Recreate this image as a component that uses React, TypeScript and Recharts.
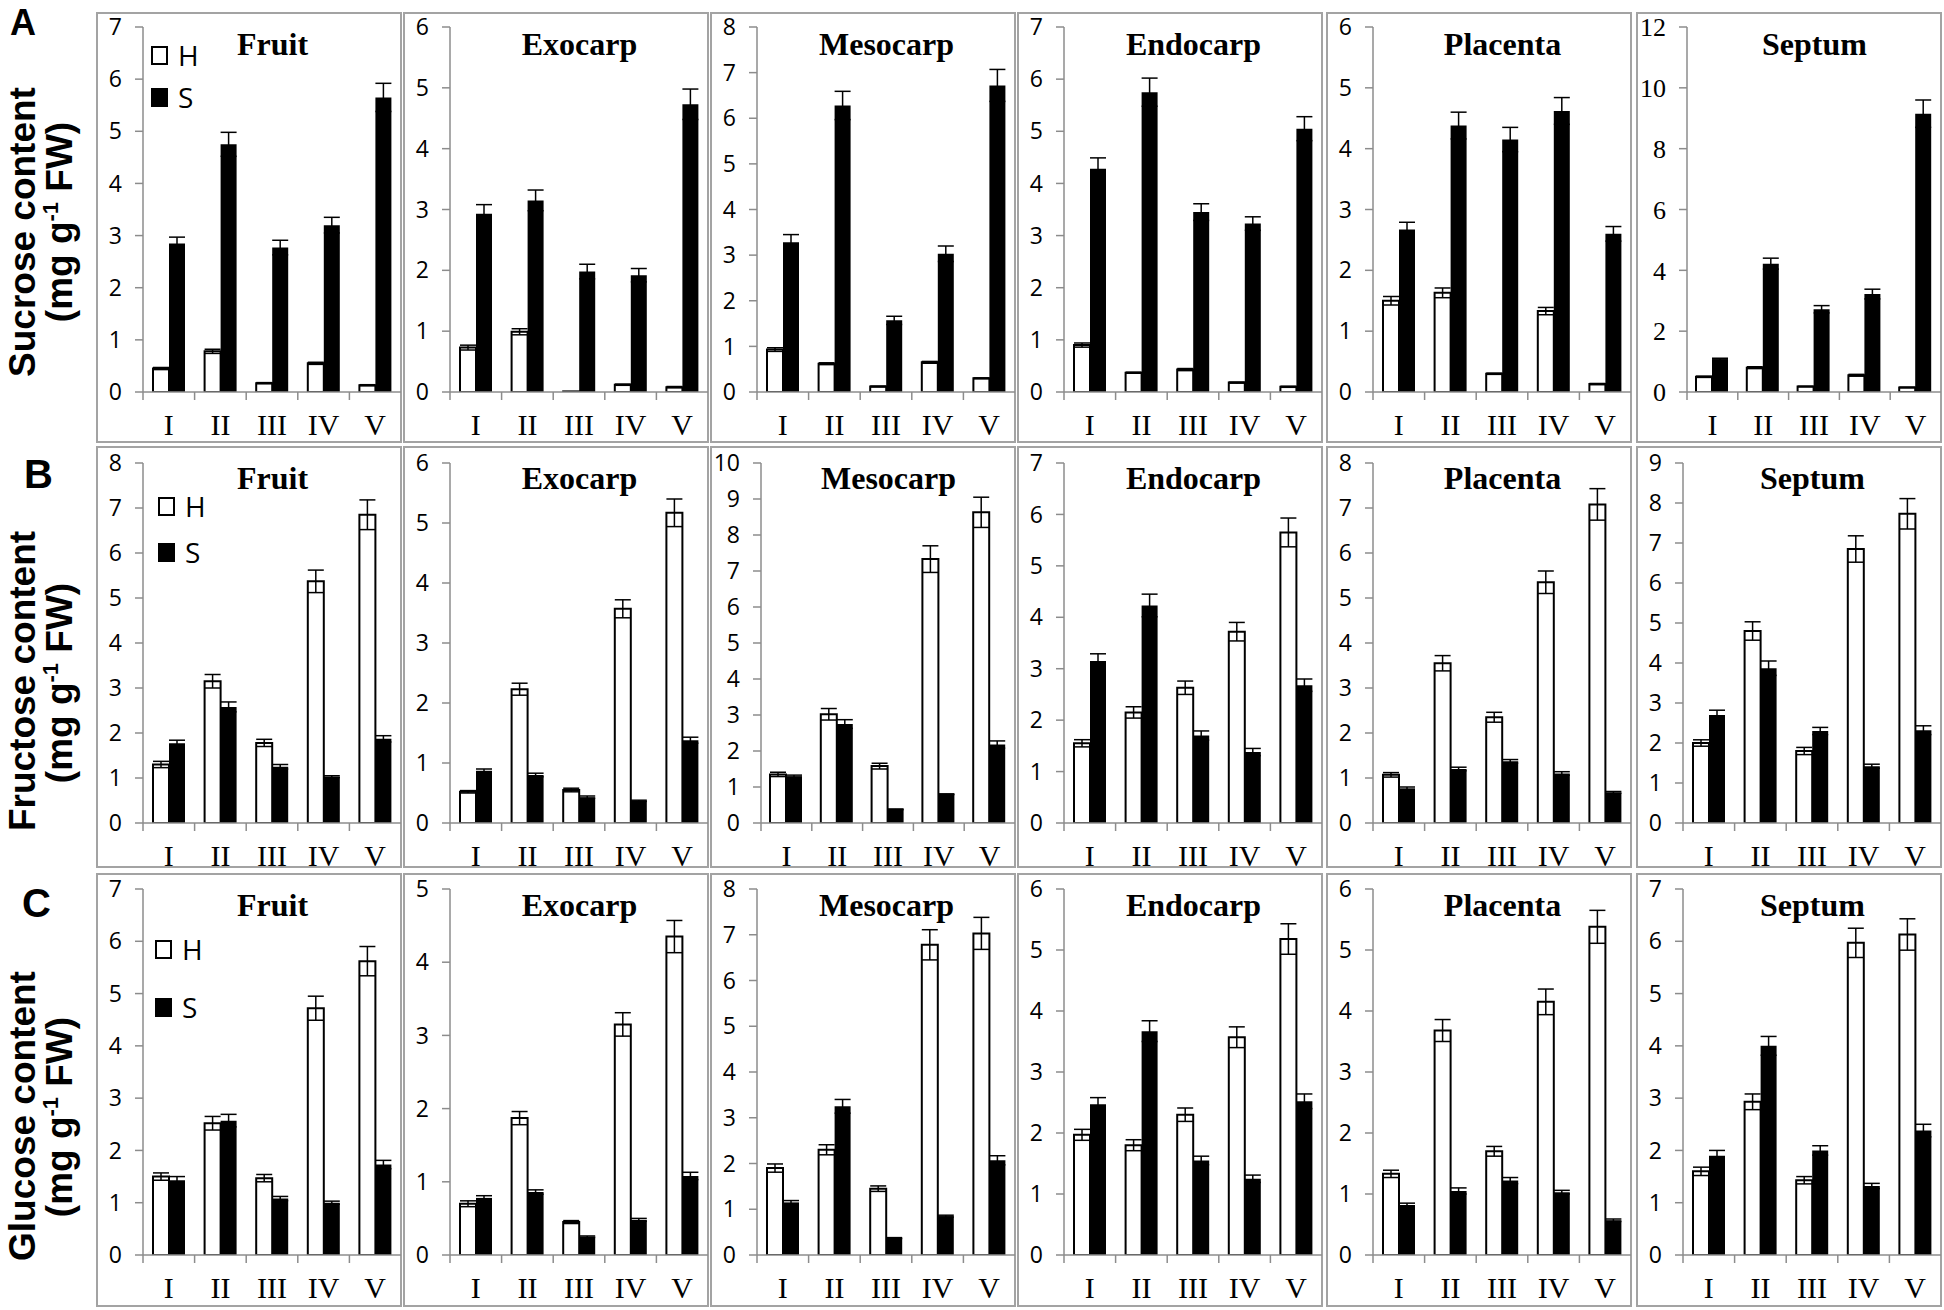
import { BarChart, Bar, XAxis, YAxis, ErrorBar, Legend } from "recharts"

const CATEGORIES = ["I", "II", "III", "IV", "V"]
const TISSUES = ["Fruit", "Exocarp", "Mesocarp", "Endocarp", "Placenta", "Septum"]
const ROW_LETTERS = ["A", "B", "C"]
const ROW_TITLES = ["Sucrose content", "Fructose content", "Glucose content"]

// rows: one inner array per tissue, in TISSUES order, values for stages I..V
const sucroseH = [
  [0.45, 0.78, 0.17, 0.55, 0.13],
  [0.73, 0.99, 0.01, 0.12, 0.08],
  [0.93, 0.62, 0.12, 0.65, 0.3],
  [0.9, 0.37, 0.43, 0.18, 0.1],
  [1.5, 1.63, 0.3, 1.33, 0.13],
  [0.5, 0.8, 0.18, 0.55, 0.15],
]
const sucroseS = [
  [2.85, 4.75, 2.77, 3.2, 5.65],
  [2.93, 3.15, 1.98, 1.92, 4.73],
  [3.28, 6.28, 1.57, 3.03, 6.72],
  [4.28, 5.75, 3.45, 3.23, 5.05],
  [2.67, 4.38, 4.15, 4.62, 2.6],
  [1.08, 4.22, 2.72, 3.22, 9.15],
]
const sucroseHErr = [
  [0.02, 0.04, 0.01, 0.02, 0.01],
  [0.04, 0.05, 0, 0.01, 0.01],
  [0.04, 0.02, 0.01, 0.02, 0.01],
  [0.04, 0.01, 0.02, 0.01, 0.01],
  [0.07, 0.08, 0.01, 0.06, 0.01],
  [0.02, 0.03, 0.01, 0.03, 0.01],
]
const sucroseSErr = [
  [0.12, 0.23, 0.14, 0.15, 0.27],
  [0.15, 0.17, 0.12, 0.11, 0.25],
  [0.17, 0.31, 0.09, 0.17, 0.35],
  [0.21, 0.27, 0.16, 0.13, 0.23],
  [0.12, 0.22, 0.2, 0.22, 0.12],
  [0.03, 0.18, 0.12, 0.16, 0.45],
]

const fructoseH = [
  [1.3, 3.15, 1.78, 5.37, 6.85],
  [0.52, 2.23, 0.55, 3.57, 5.17],
  [1.35, 3.02, 1.58, 7.33, 8.63],
  [1.55, 2.15, 2.63, 3.72, 5.65],
  [1.07, 3.55, 2.35, 5.35, 7.08],
  [2.0, 4.8, 1.8, 6.85, 7.73],
]
const fructoseS = [
  [1.77, 2.58, 1.25, 1.03, 1.87],
  [0.87, 0.8, 0.43, 0.37, 1.38],
  [1.3, 2.75, 0.38, 0.8, 2.18],
  [3.15, 4.23, 1.7, 1.38, 2.68],
  [0.77, 1.2, 1.37, 1.1, 0.68],
  [2.7, 3.87, 2.3, 1.42, 2.32],
]
const fructoseHErr = [
  [0.07, 0.15, 0.08, 0.25, 0.33],
  [0.02, 0.1, 0.03, 0.15, 0.23],
  [0.06, 0.16, 0.08, 0.37, 0.42],
  [0.07, 0.11, 0.13, 0.18, 0.28],
  [0.05, 0.17, 0.11, 0.25, 0.35],
  [0.08, 0.23, 0.09, 0.33, 0.38],
]
const fructoseSErr = [
  [0.07, 0.11, 0.05, 0.02, 0.07],
  [0.03, 0.03, 0.02, 0.01, 0.05],
  [0.03, 0.12, 0.01, 0.01, 0.1],
  [0.14, 0.22, 0.09, 0.07, 0.12],
  [0.03, 0.04, 0.04, 0.04, 0.02],
  [0.12, 0.18, 0.09, 0.05, 0.11],
]

const glucoseH = [
  [1.5, 2.52, 1.47, 4.72, 5.62],
  [0.7, 1.87, 0.45, 3.15, 4.35],
  [1.9, 2.3, 1.45, 6.78, 7.03],
  [1.97, 1.8, 2.3, 3.57, 5.18],
  [1.33, 3.68, 1.7, 4.15, 5.38],
  [1.6, 2.93, 1.43, 5.97, 6.13],
]
const glucoseS = [
  [1.43, 2.57, 1.08, 1.0, 1.73],
  [0.78, 0.86, 0.25, 0.48, 1.08],
  [1.15, 3.25, 0.37, 0.85, 2.07],
  [2.47, 3.67, 1.55, 1.25, 2.52],
  [0.82, 1.05, 1.22, 1.03, 0.57],
  [1.9, 4.0, 2.0, 1.32, 2.38],
]
const glucoseHErr = [
  [0.07, 0.13, 0.07, 0.23, 0.28],
  [0.04, 0.09, 0.02, 0.16, 0.22],
  [0.09, 0.11, 0.06, 0.33, 0.35],
  [0.09, 0.09, 0.11, 0.17, 0.25],
  [0.06, 0.18, 0.08, 0.21, 0.27],
  [0.08, 0.15, 0.07, 0.28, 0.3],
]
const glucoseSErr = [
  [0.07, 0.12, 0.04, 0.03, 0.08],
  [0.03, 0.03, 0.01, 0.02, 0.05],
  [0.04, 0.15, 0.01, 0.02, 0.1],
  [0.11, 0.17, 0.07, 0.06, 0.12],
  [0.03, 0.05, 0.05, 0.03, 0.02],
  [0.1, 0.18, 0.09, 0.05, 0.12],
]

const sucroseMax = [7, 6, 8, 7, 6, 12]
const fructoseMax = [8, 6, 10, 7, 8, 9]
const glucoseMax = [7, 5, 8, 6, 6, 7]

const SERIES = [
  { h: sucroseH, s: sucroseS, hErr: sucroseHErr, sErr: sucroseSErr, max: sucroseMax },
  { h: fructoseH, s: fructoseS, hErr: fructoseHErr, sErr: fructoseSErr, max: fructoseMax },
  { h: glucoseH, s: glucoseS, hErr: glucoseHErr, sErr: glucoseSErr, max: glucoseMax },
]

// layout
const COL_LEFT = [96, 403, 710, 1017, 1326, 1636]
const PANEL_W = 306
const ROWS = [
  { top: 12, height: 431, plotTop: 15, zero: 380 },
  { top: 446, height: 422, plotTop: 17, zero: 377 },
  { top: 873, height: 434, plotTop: 16, zero: 382 },
]
const LEGEND_POS = [
  { x: 55, y: 33, gap: 42 },
  { x: 62, y: 50, gap: 46 },
  { x: 59, y: 66, gap: 58 },
]
const X_AXIS_H = 60
// the chart svg overhangs the framed box a little so edge labels are never clipped
const PAD_TOP = 10
const PAD_BOTTOM = 14
const AXIS = "#8c8c8c"
const BOX = "#a3a3a3"
const SANS = "'Open Sans', 'Noto Sans', sans-serif"
const SERIF = "'Liberation Serif', 'DejaVu Serif', serif"
const BOLD_SANS = "'Liberation Sans', Arial, sans-serif"

function yWidth(max: number) {
  return max >= 10 ? 51 : 47
}

function CategoryTick(props: any) {
  const { x, y, payload, step } = props
  return (
    <g>
      <line x1={x - step / 2} x2={x - step / 2} y1={y} y2={y + 8} stroke={AXIS} strokeWidth={1.5} />
      <text x={x} y={y + 43} textAnchor="middle" fontFamily={SERIF} fontSize={30} fill="#000">
        {payload.value}
      </text>
    </g>
  )
}

function LegendBox({ gap }: { gap: number }) {
  return (
    <svg width={70} height={gap + 26} style={{ overflow: "visible" }}>
      <rect x={1} y={2} width={15} height={17} fill="#fff" stroke="#000" strokeWidth={2} />
      <text x={27} y={21} fontFamily={SANS} fontSize={28} fill="#000">H</text>
      <rect x={0} y={gap + 1} width={17} height={19} fill="#000" />
      <text x={27} y={gap + 21} fontFamily={SANS} fontSize={28} fill="#000">S</text>
    </svg>
  )
}

function Panel({ row, col }: { row: number; col: number }) {
  const ser = SERIES[row]
  const { top, height, plotTop, zero } = ROWS[row]
  const max = ser.max[col]
  const step = max > 10 ? 2 : 1
  const ticks: number[] = []
  for (let v = 0; v <= max; v += step) ticks.push(v)
  const yw = yWidth(max)
  const plotW = PANEL_W - yw - 1
  const band = plotW / CATEGORIES.length
  const data = CATEGORIES.map((c, i) => ({
    name: c,
    H: ser.h[col][i],
    S: ser.s[col][i],
    hErr: ser.hErr[col][i],
    sErr: ser.sErr[col][i],
  }))
  const serifTicks = row === 0 && col === 5
  const lp = LEGEND_POS[row]
  const chartH = height + PAD_TOP + PAD_BOTTOM

  return (
    <div style={{ position: "absolute", left: COL_LEFT[col], top, width: PANEL_W, height }}>
      <div
        style={{
          position: "absolute",
          left: 0,
          top: 0,
          width: PANEL_W,
          height,
          boxSizing: "border-box",
          border: `2px solid ${BOX}`,
        }}
      />
      <div style={{ position: "absolute", left: 0, top: -PAD_TOP }}>
        <BarChart
          width={PANEL_W}
          height={chartH}
          data={data}
          margin={{
            top: plotTop + PAD_TOP,
            right: 1,
            left: 0,
            bottom: chartH - PAD_TOP - zero - X_AXIS_H,
          }}
          barGap={0}
          barSize={16}
        >
          <XAxis
            dataKey="name"
            height={X_AXIS_H}
            interval={0}
            tickSize={0}
            tickMargin={0}
            tickLine={false}
            axisLine={{ stroke: AXIS, strokeWidth: 1.5 }}
            tick={(p: any) => <CategoryTick {...p} step={band} />}
          />
          <YAxis
            type="number"
            width={yw}
            domain={[0, max]}
            ticks={ticks}
            interval={0}
            allowDataOverflow
            tickSize={8}
            tickMargin={13}
            axisLine={{ stroke: AXIS, strokeWidth: 1.5 }}
            tickLine={{ stroke: AXIS, strokeWidth: 1.5 }}
            tick={{
              fill: "#000",
              fontFamily: serifTicks ? SERIF : SANS,
              fontSize: serifTicks ? 26 : 23,
            }}
          />
          <Bar dataKey="H" fill="#fff" stroke="#000" strokeWidth={2} isAnimationActive={false}>
            <ErrorBar dataKey="hErr" width={8} stroke="#000" strokeWidth={1.5} direction="y" isAnimationActive={false} />
          </Bar>
          <Bar dataKey="S" fill="#000" isAnimationActive={false}>
            <ErrorBar dataKey="sErr" width={8} stroke="#000" strokeWidth={1.5} direction="y" isAnimationActive={false} />
          </Bar>
          {col === 0 && (
            <Legend
              layout="horizontal"
              verticalAlign="middle"
              align="center"
              wrapperStyle={{ left: lp.x, top: lp.y + PAD_TOP, width: 70, height: lp.gap + 26 }}
              content={() => <LegendBox gap={lp.gap} />}
            />
          )}
        </BarChart>
      </div>
    </div>
  )
}

const AXIS_TITLE_Y = [
  { l1: 232, l2: 222 },
  { l1: 681, l2: 683 },
  { l1: 1116, l2: 1117 },
]
const LETTER_POS = [
  { x: 10, y: 35 },
  { x: 24, y: 488 },
  { x: 22, y: 917 },
]

export default function App() {
  return (
    <div style={{ position: "absolute", left: 0, top: 0, width: 1944, height: 1310, background: "#fff", overflow: "hidden" }}>
      {ROWS.map((_, r) => TISSUES.map((_, c) => <Panel key={`${r}-${c}`} row={r} col={c} />))}
      <svg
        width={1944}
        height={1310}
        style={{ position: "absolute", left: 0, top: 0, pointerEvents: "none" }}
      >
        {ROWS.map((rw, r) =>
          TISSUES.map((t, c) => {
            const yw = yWidth(SERIES[r].max[c])
            const cx = COL_LEFT[c] + yw + (PANEL_W - yw) / 2
            return (
              <text
                key={`t-${r}-${c}`}
                x={cx}
                y={rw.top + 43}
                textAnchor="middle"
                fontFamily={SERIF}
                fontWeight="bold"
                fontSize={32}
                fill="#000"
              >
                {t}
              </text>
            )
          })
        )}
        {ROW_LETTERS.map((l, r) => (
          <text
            key={l}
            x={LETTER_POS[r].x}
            y={LETTER_POS[r].y}
            fontFamily={BOLD_SANS}
            fontWeight="bold"
            fontSize={r === 0 ? 36 : 40}
            fill="#000"
          >
            {l}
          </text>
        ))}
        {ROW_TITLES.map((t, r) => (
          <g key={t} fontFamily={BOLD_SANS} fontWeight="bold" fill="#000">
            <text
              transform={`translate(35 ${AXIS_TITLE_Y[r].l1}) rotate(-90)`}
              textAnchor="middle"
              fontSize={37}
            >
              {t}
            </text>
            <text
              transform={`translate(72 ${AXIS_TITLE_Y[r].l2}) rotate(-90)`}
              textAnchor="middle"
              fontSize={37}
            >
              (mg g<tspan fontSize={22} dy={-14}>-1</tspan>
              <tspan dy={14}> FW)</tspan>
            </text>
          </g>
        ))}
      </svg>
    </div>
  )
}
